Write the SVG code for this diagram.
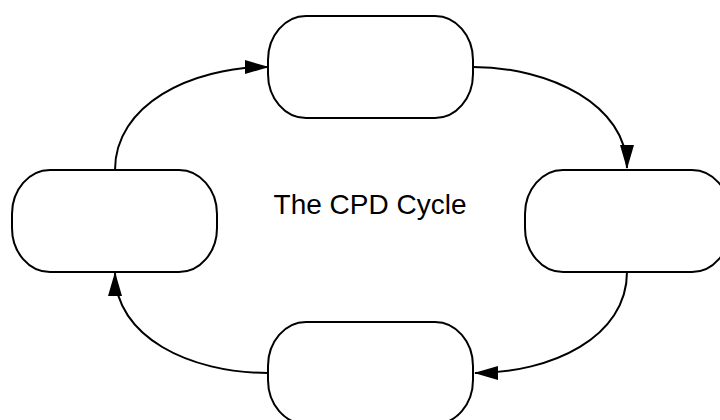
<svg xmlns="http://www.w3.org/2000/svg" width="720" height="420" viewBox="0 0 720 420">
<style>
.node{fill:#fff;stroke:#000;stroke-width:2}
.edge{fill:none;stroke:#000;stroke-width:2}
.lbl{font-family:"Liberation Sans",Arial,sans-serif;font-size:28px;fill:#000}
</style>
<defs>
<marker id="arr" markerWidth="24" markerHeight="14" refX="23" refY="7" orient="auto" markerUnits="userSpaceOnUse">
<path d="M0,0 L24,7 L0,14 Z" fill="#000"/>
</marker>
</defs>
<rect width="720" height="420" fill="#fff"/>
<g id="node-top"><rect class="node" x="268" y="16" width="205" height="102" rx="38" ry="44"/></g>
<g id="node-right"><rect class="node" x="525" y="170" width="205" height="102" rx="38" ry="44"/></g>
<g id="node-bottom"><rect class="node" x="268" y="322" width="205" height="102" rx="38" ry="44"/></g>
<g id="node-left"><rect class="node" x="12" y="170" width="205" height="102" rx="38" ry="44"/></g>
<g id="connectors">
<path class="edge" marker-end="url(#arr)" d="M115,170 C115,105 190,67 268,67"/>
<path class="edge" marker-end="url(#arr)" d="M473,67 C550,67 627,105 627,168"/>
<path class="edge" marker-end="url(#arr)" d="M627,272 C627,337 552,373 475,373"/>
<path class="edge" marker-end="url(#arr)" d="M268,373 C190,373 115,337 115,273"/>
</g>
<text class="lbl" x="370" y="214" text-anchor="middle">The CPD Cycle</text>
</svg>
